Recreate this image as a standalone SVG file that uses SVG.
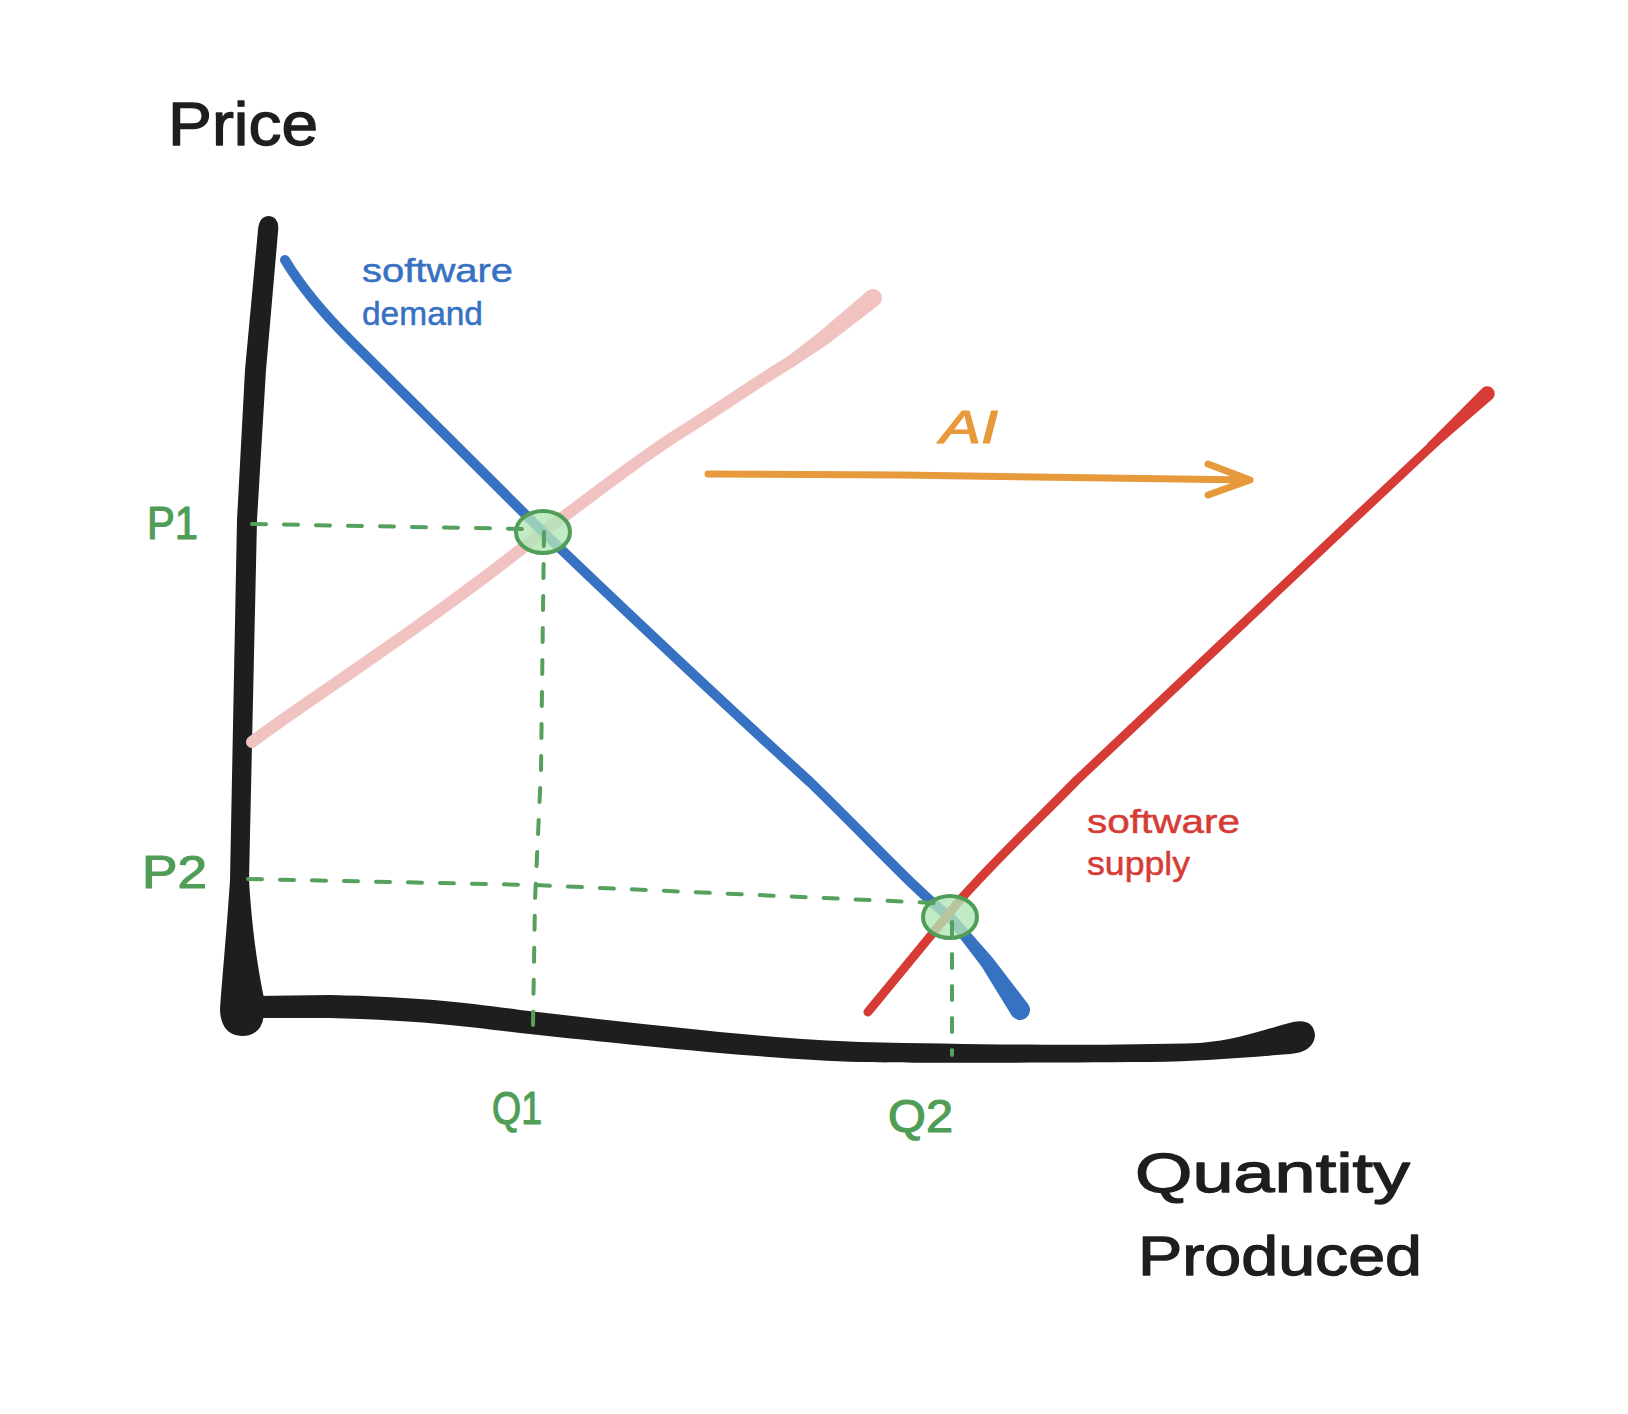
<svg xmlns="http://www.w3.org/2000/svg" width="1628" height="1414" viewBox="0 0 1628 1414">
<style>
.t{font-family:"Liberation Sans","DejaVu Sans",Arial,sans-serif;stroke-linejoin:round}
.blk{fill:#1e1e1e;stroke:#1e1e1e}
.grn{fill:#4f9d56;stroke:#4f9d56}
.blu{fill:#3671c2;stroke:#3671c2}
.red{fill:#d63b35;stroke:#d63b35}
.org{fill:#e69a3b;stroke:#e69a3b}
.curve{fill:none;stroke-linecap:round;stroke-linejoin:round}
.dash{fill:none;stroke:#55a05c;stroke-width:4;stroke-dasharray:14 18;stroke-linecap:round}
.eq{fill:#b2e6b6;fill-opacity:0.8;stroke:#4f9d56;stroke-width:4}
</style>
<rect width="1628" height="1414" fill="#ffffff"/>
<g id="axes">
<path fill="#1e1e1e" d="M 258 230 Q 259 216 269 216 Q 280 217 278 232 L 266 370 L 257 520 L 249 880 C 252 930 258 970 264 998 L 264 1014 Q 262 1036 242 1036 Q 221 1035 220 1010 C 222 980 226 940 230 880 L 237 520 L 245 370 Z"/>
<path fill="#1e1e1e" d="M 250 996 L 330 995 C 420 997 470 1003 520 1010 C 650 1025 780 1040 860 1042 C 1000 1045 1100 1046 1200 1043 C 1240 1040 1268 1028 1293 1022 Q 1314 1018 1315 1036 Q 1313 1052 1290 1054 C 1240 1058 1200 1061 1150 1062 C 1000 1063 900 1063 860 1062 C 780 1060 650 1047 520 1033 C 470 1027 420 1020 330 1018 L 250 1018 Z"/>
</g>
<g id="connectors">
<g id="old-supply">
<path class="curve" stroke="#f0c3c1" stroke-width="12" d="M 252 742 C 300 705 420 630 543 532 C 600 490 640 458 680 433 C 720 408 760 380 790 362 C 810 350 830 333 873 298"/>
<path fill="#f0c3c1" d="M 786.9 356.9 L 818.3 332.7 L 867.3 291 A 9 9 0 0 1 878.7 305 L 827.5 344.5 L 793.1 367.1 Z"/>
</g>
<g id="demand">
<path class="curve" stroke="#3671c2" stroke-width="10" d="M 285 260 C 300 285 320 310 350 340 L 543 532 C 640 625 720 700 810 782 C 870 840 920 895 950 917 C 975 945 1000 975 1020 1010"/>
<path fill="#3671c2" d="M 954 914 L 992.6 957.8 L 1028 1004 A 10 10 0 0 1 1012 1016 L 981.4 966.2 L 946 920 Z"/>
</g>
<g id="supply">
<path class="curve" stroke="#d63b35" stroke-width="9" d="M 868 1012 L 960 900 C 1000 855 1040 818 1077 780 C 1200 665 1350 522 1488 393"/>
<path fill="#d63b35" d="M 1427 443.7 L 1483 387.5 A 7.5 7.5 0 0 1 1493 398.5 L 1433 450.3 Z"/>
</g>
<g id="ai-arrow">
<path class="curve" stroke="#e69a3b" stroke-width="7" d="M 708 474 L 900 475 L 1250 480 M 1208 464 L 1250 480 L 1208 495"/>
</g>
</g>
<g id="eq1"><ellipse class="eq" cx="543" cy="532" rx="27" ry="21"/></g>
<g id="eq2"><ellipse class="eq" cx="950" cy="917" rx="27" ry="21"/></g>
<g id="guides">
<path class="dash" d="M 252 524 L 528 529"/>
<path class="dash" d="M 544 532 L 541 770 L 535 900 L 533 1025"/>
<path class="dash" d="M 248 879 L 535 885 L 936 903"/>
<path class="dash" d="M 952 922 L 952 1055"/>
</g>
<g id="labels">
<text class="t blk" x="168" y="145" font-size="62" stroke-width="1.3" textLength="150" lengthAdjust="spacingAndGlyphs">Price</text>
<text class="t blu" font-size="34" stroke-width="0.5" x="362" y="282" textLength="151" lengthAdjust="spacingAndGlyphs">software</text>
<text class="t blu" font-size="34" stroke-width="0.5" x="362" y="325" textLength="121" lengthAdjust="spacingAndGlyphs">demand</text>
<text class="t red" font-size="34" stroke-width="0.5" x="1087" y="833" textLength="153" lengthAdjust="spacingAndGlyphs">software</text>
<text class="t red" font-size="34" stroke-width="0.5" x="1087" y="875" textLength="103" lengthAdjust="spacingAndGlyphs">supply</text>
<text class="t org" font-size="46" stroke-width="1.2" font-style="italic" x="940" y="443" textLength="58" lengthAdjust="spacingAndGlyphs">AI</text>
<text class="t grn" font-size="46" stroke-width="1.2" x="147" y="539" textLength="51" lengthAdjust="spacingAndGlyphs">P1</text>
<text class="t grn" font-size="46" stroke-width="1.2" x="142" y="888" textLength="65" lengthAdjust="spacingAndGlyphs">P2</text>
<text class="t grn" font-size="46" stroke-width="1.2" x="492" y="1124" textLength="50" lengthAdjust="spacingAndGlyphs">Q1</text>
<text class="t grn" font-size="46" stroke-width="1.2" x="888" y="1132" textLength="65" lengthAdjust="spacingAndGlyphs">Q2</text>
<text class="t blk" font-size="56" stroke-width="1.3" x="1135" y="1192" textLength="275" lengthAdjust="spacingAndGlyphs">Quantity</text>
<text class="t blk" font-size="56" stroke-width="1.3" x="1138" y="1275" textLength="284" lengthAdjust="spacingAndGlyphs">Produced</text>
</g>
</svg>
